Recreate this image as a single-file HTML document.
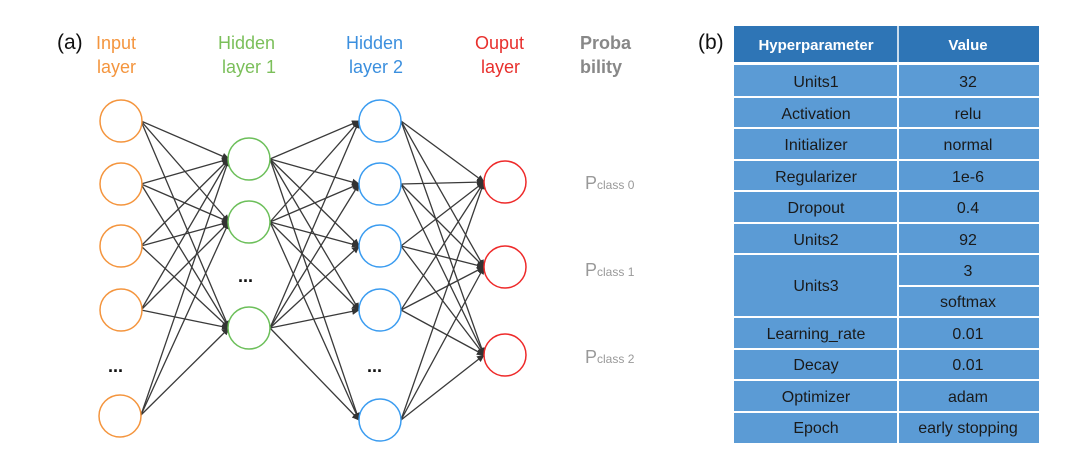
<!DOCTYPE html>
<html><head><meta charset="utf-8"><style>
body{margin:0;width:1080px;height:455px;background:#fff;overflow:hidden;font-family:"Liberation Sans",sans-serif;}
svg{position:absolute;left:0;top:0}
</style></head><body>
<svg width="1080" height="455" viewBox="0 0 1080 455">
<defs><marker id="a" markerWidth="8" markerHeight="8" refX="7" refY="4" orient="auto" markerUnits="userSpaceOnUse"><path d="M0,0.5 L8,4 L0,7.5z" fill="#333"/></marker></defs>
<g font-size="18">
<text x="57" y="49" fill="#111" font-size="21">(a)</text>
<text x="96" y="49" fill="#f4953e">Input</text><text x="97" y="73" fill="#f4953e">layer</text>
<text x="218" y="49" fill="#7bbf5a">Hidden</text><text x="222" y="73" fill="#7bbf5a">layer 1</text>
<text x="346" y="49" fill="#3b8fde">Hidden</text><text x="349" y="73" fill="#3b8fde">layer 2</text>
<text x="475" y="49" fill="#e8302d">Ouput</text><text x="481" y="73" fill="#e8302d">layer</text>
<text x="580" y="49" fill="#888" font-weight="bold">Proba</text><text x="580" y="73" fill="#888" font-weight="bold">bility</text>
</g>
<g fill="#999" font-size="18"><text x="585" y="189">P<tspan font-size="12">class 0</tspan></text><text x="585" y="276">P<tspan font-size="12">class 1</tspan></text><text x="585" y="363">P<tspan font-size="12">class 2</tspan></text></g>
<g fill="#111" font-size="18" font-weight="bold"><text x="108" y="372">...</text><text x="238" y="282">...</text><text x="367" y="372">...</text></g>
<g stroke="#3a3a3a" stroke-width="1.3" marker-end="url(#a)">
<line x1="141" y1="121" x2="229" y2="159"/><line x1="141" y1="121" x2="229" y2="222"/><line x1="141" y1="121" x2="229" y2="328"/>
<line x1="141" y1="184" x2="229" y2="159"/><line x1="141" y1="184" x2="229" y2="222"/><line x1="141" y1="184" x2="229" y2="328"/>
<line x1="141" y1="246" x2="229" y2="159"/><line x1="141" y1="246" x2="229" y2="222"/><line x1="141" y1="246" x2="229" y2="328"/>
<line x1="141" y1="310" x2="229" y2="159"/><line x1="141" y1="310" x2="229" y2="222"/><line x1="141" y1="310" x2="229" y2="328"/>
<line x1="141" y1="415" x2="229" y2="159"/><line x1="141" y1="415" x2="229" y2="222"/><line x1="141" y1="415" x2="229" y2="328"/>
<line x1="270" y1="159" x2="359" y2="121"/><line x1="270" y1="159" x2="359" y2="184"/><line x1="270" y1="159" x2="359" y2="246"/><line x1="270" y1="159" x2="359" y2="310"/><line x1="270" y1="159" x2="359" y2="420"/>
<line x1="270" y1="222" x2="359" y2="121"/><line x1="270" y1="222" x2="359" y2="184"/><line x1="270" y1="222" x2="359" y2="246"/><line x1="270" y1="222" x2="359" y2="310"/><line x1="270" y1="222" x2="359" y2="420"/>
<line x1="270" y1="328" x2="359" y2="121"/><line x1="270" y1="328" x2="359" y2="184"/><line x1="270" y1="328" x2="359" y2="246"/><line x1="270" y1="328" x2="359" y2="310"/><line x1="270" y1="328" x2="359" y2="420"/>
<line x1="401" y1="121" x2="484" y2="182"/><line x1="401" y1="121" x2="484" y2="267"/><line x1="401" y1="121" x2="484" y2="355"/>
<line x1="401" y1="184" x2="484" y2="182"/><line x1="401" y1="184" x2="484" y2="267"/><line x1="401" y1="184" x2="484" y2="355"/>
<line x1="401" y1="246" x2="484" y2="182"/><line x1="401" y1="246" x2="484" y2="267"/><line x1="401" y1="246" x2="484" y2="355"/>
<line x1="401" y1="310" x2="484" y2="182"/><line x1="401" y1="310" x2="484" y2="267"/><line x1="401" y1="310" x2="484" y2="355"/>
<line x1="401" y1="420" x2="484" y2="182"/><line x1="401" y1="420" x2="484" y2="267"/><line x1="401" y1="420" x2="484" y2="355"/>
</g>
<g fill="#fff" stroke-width="1.5">
<g stroke="#f4953e"><circle cx="121" cy="121" r="21"/><circle cx="121" cy="184" r="21"/><circle cx="121" cy="246" r="21"/><circle cx="121" cy="310" r="21"/><circle cx="120" cy="416" r="21"/></g>
<g stroke="#6cbf5a"><circle cx="249" cy="159" r="21"/><circle cx="249" cy="222" r="21"/><circle cx="249" cy="328" r="21"/></g>
<g stroke="#3b9cf0"><circle cx="380" cy="121" r="21"/><circle cx="380" cy="184" r="21"/><circle cx="380" cy="246" r="21"/><circle cx="380" cy="310" r="21"/><circle cx="380" cy="420" r="21"/></g>
<g stroke="#ee2a2a"><circle cx="505" cy="182" r="21"/><circle cx="505" cy="267" r="21"/><circle cx="505" cy="355" r="21"/></g>
</g>
<text x="698" y="49" fill="#111" font-size="21">(b)</text>
<rect x="734" y="26" width="305" height="36" fill="#2e75b6"/>
<line x1="898" y1="26" x2="898" y2="62" stroke="#fff" stroke-width="1.5"/>
<g fill="#fff" font-weight="bold" font-size="15" text-anchor="middle"><text x="816" y="50">Hyperparameter</text><text x="968" y="50">Value</text></g>
<rect x="734" y="65" width="305" height="378" fill="#5b9bd5"/>
<g stroke="#fff" stroke-width="2">
<line x1="898" y1="65" x2="898" y2="443"/>
<line x1="734" y1="97" x2="1039" y2="97"/><line x1="734" y1="128" x2="1039" y2="128"/><line x1="734" y1="160" x2="1039" y2="160"/><line x1="734" y1="191" x2="1039" y2="191"/><line x1="734" y1="223" x2="1039" y2="223"/><line x1="734" y1="254" x2="1039" y2="254"/><line x1="898" y1="286" x2="1039" y2="286"/><line x1="734" y1="317" x2="1039" y2="317"/><line x1="734" y1="349" x2="1039" y2="349"/><line x1="734" y1="380" x2="1039" y2="380"/><line x1="734" y1="412" x2="1039" y2="412"/>
</g>
<g fill="#1a1a1a" font-size="16" text-anchor="middle">
<text x="816" y="87">Units1</text><text x="968" y="87">32</text>
<text x="816" y="119">Activation</text><text x="968" y="119">relu</text>
<text x="816" y="150">Initializer</text><text x="968" y="150">normal</text>
<text x="816" y="182">Regularizer</text><text x="968" y="182">1e-6</text>
<text x="816" y="213">Dropout</text><text x="968" y="213">0.4</text>
<text x="816" y="245">Units2</text><text x="968" y="245">92</text>
<text x="816" y="291">Units3</text><text x="968" y="276">3</text><text x="968" y="307">softmax</text>
<text x="816" y="339">Learning_rate</text><text x="968" y="339">0.01</text>
<text x="816" y="370">Decay</text><text x="968" y="370">0.01</text>
<text x="816" y="402">Optimizer</text><text x="968" y="402">adam</text>
<text x="816" y="433">Epoch</text><text x="968" y="433">early stopping</text>
</g>
</svg>
</body></html>
